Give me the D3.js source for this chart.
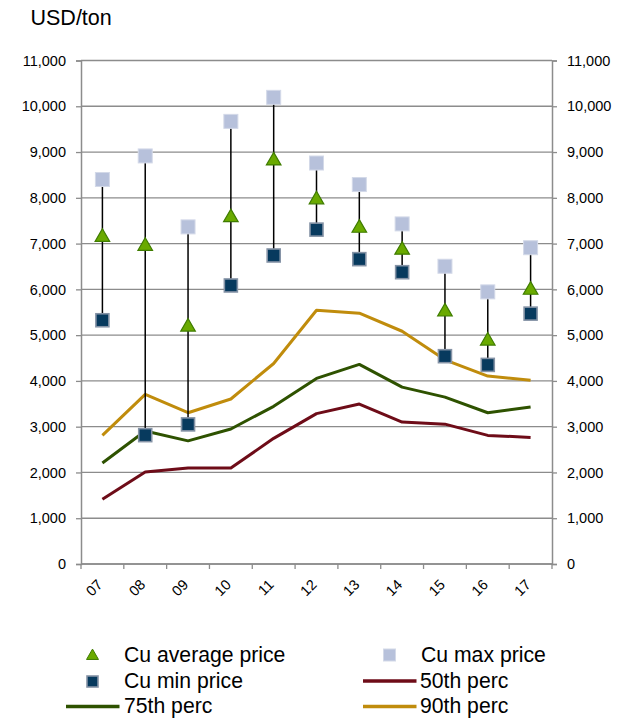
<!DOCTYPE html>
<html>
<head>
<meta charset="utf-8">
<script src="https://cdn.jsdelivr.net/npm/d3@7"></script>
<style>
  html, body { margin: 0; padding: 0; background: #ffffff; }
  svg { display: block; font-family: "Liberation Sans", Arial, sans-serif; }
</style>
</head>
<body>
<svg id="chart" width="618" height="720"></svg>
<script>
// ---- data ----
const years = ["07", "08", "09", "10", "11", "12", "13", "14", "15", "16", "17"];
const avgPrice = [7140, 6945, 5180, 7570, 8810, 7960, 7340, 6860, 5510, 4875, 5985];
const maxPrice = [8400, 8915, 7365, 9670, 10195, 8760, 8290, 7430, 6505, 5945, 6910];
const minPrice = [5325, 2815, 3050, 6085, 6740, 7305, 6660, 6375, 4540, 4350, 5470];
const p50 = [1415, 2010, 2095, 2095, 2745, 3285, 3495, 3100, 3055, 2810, 2765];
const p75 = [2205, 2905, 2690, 2950, 3445, 4055, 4360, 3865, 3645, 3305, 3430];
const p90 = [2810, 3705, 3305, 3605, 4380, 5545, 5480, 5085, 4460, 4105, 4015];
const currentPrice = 6195;
const currentFromYear = "16";
const yTicks = [0, 1000, 2000, 3000, 4000, 5000, 6000, 7000, 8000, 9000, 10000, 11000];
const yUnit = "USD/ton";
const seriesNames = ["Cu average price", "Cu max price", "Cu min price", "50th perc", "75th perc", "90th perc"];

// ---- styles ----
const C = {
  grid: "#8c8c8c",
  maxFill: "#b7c1db", maxStroke: "#d3d9e8",
  minFill: "#073a5e", minStroke: "#8593a6",
  triFill: "#6aaa00", triStroke: "#3f7c00",
  p50: "#6e0c18", p75: "#2e5200", p90: "#c08c0c",
  bar: "#6c0012"
};

const svg = d3.select("#chart");
const pL = 81, pR = 552, pT = 60.5, pB = 564;

const x = d3.scaleBand().domain(years).range([pL, pR]).padding(0);
const y = d3.scaleLinear().domain([0, 11000]).range([pB, pT]);
const cx = d => x(d) + x.bandwidth() / 2;
const fmt = d3.format(",");

const defs = svg.append("defs");
const f = defs.append("filter").attr("id", "shadow").attr("x", "-10%").attr("y", "-50%").attr("width", "120%").attr("height", "250%");
f.append("feDropShadow").attr("dx", 1).attr("dy", 2).attr("stdDeviation", 1.3).attr("flood-color", "#000").attr("flood-opacity", 0.35);

// title
svg.append("text").attr("x", 30.5).attr("y", 25).attr("font-size", 21.5).attr("fill", "#000").text(yUnit);

// gridlines
svg.append("g").selectAll("line").data(yTicks).join("line")
  .attr("x1", pL).attr("x2", pR)
  .attr("y1", d => y(d)).attr("y2", d => y(d))
  .attr("stroke", C.grid).attr("stroke-width", 1.3);

// left axis
const gl = svg.append("g").attr("transform", `translate(${pL},0)`)
  .call(d3.axisLeft(y).tickValues(yTicks).tickFormat(fmt).tickSize(5).tickPadding(10));
gl.select(".domain").attr("stroke", C.grid).attr("stroke-width", 1.5);
gl.selectAll(".tick line").attr("stroke", C.grid).attr("stroke-width", 1.3);
gl.selectAll(".tick text").attr("font-size", 14.5).attr("fill", "#000").attr("font-family", "Liberation Sans, Arial, sans-serif");

// right axis
const gr = svg.append("g").attr("transform", `translate(${pR},0)`)
  .call(d3.axisRight(y).tickValues(yTicks).tickFormat(fmt).tickSize(5).tickPadding(10));
gr.select(".domain").attr("stroke", C.grid).attr("stroke-width", 1.5);
gr.selectAll(".tick line").attr("stroke", C.grid).attr("stroke-width", 1.3);
gr.selectAll(".tick text").attr("font-size", 14.5).attr("fill", "#000").attr("font-family", "Liberation Sans, Arial, sans-serif");

// x axis line and ticks at band boundaries
svg.append("line").attr("x1", pL).attr("x2", pR).attr("y1", pB).attr("y2", pB)
  .attr("stroke", C.grid).attr("stroke-width", 1.5);
const bounds = years.map(d => x(d)).concat([pR]);
svg.append("g").selectAll("line").data(bounds).join("line")
  .attr("x1", d => d).attr("x2", d => d).attr("y1", pB).attr("y2", pB + 5)
  .attr("stroke", C.grid).attr("stroke-width", 1.3);
svg.append("g").selectAll("text").data(years).join("text")
  .attr("transform", d => `translate(${cx(d) - 2.5},${pB + 18}) rotate(-45)`)
  .attr("text-anchor", "end").attr("dy", "0.35em")
  .attr("font-size", 14.5).attr("fill", "#000").text(d => d);

// percentile lines
const line = d3.line().x((d, i) => cx(years[i])).y(d => y(d));
[[p50, C.p50], [p75, C.p75], [p90, C.p90]].forEach(([arr, col]) => {
  svg.append("path").datum(arr).attr("d", line).attr("fill", "none")
    .attr("stroke", col).attr("stroke-width", 3).attr("stroke-linejoin", "round");
});

// high-low lines
svg.append("g").selectAll("line").data(years).join("line")
  .attr("x1", d => cx(d)).attr("x2", d => cx(d))
  .attr("y1", (d, i) => y(minPrice[i])).attr("y2", (d, i) => y(maxPrice[i]))
  .attr("stroke", "#000").attr("stroke-width", 1.5);

// max squares
svg.append("g").selectAll("rect").data(years).join("rect")
  .attr("x", d => cx(d) - 7).attr("y", (d, i) => y(maxPrice[i]) - 7)
  .attr("width", 14).attr("height", 14)
  .attr("fill", C.maxFill).attr("stroke", C.maxStroke).attr("stroke-width", 1);

// min squares
svg.append("g").selectAll("rect").data(years).join("rect")
  .attr("x", d => cx(d) - 6.5).attr("y", (d, i) => y(minPrice[i]) - 6.5)
  .attr("width", 13).attr("height", 13)
  .attr("fill", C.minFill).attr("stroke", C.minStroke).attr("stroke-width", 1.6);

// average triangles
const tri = d3.symbol().type(d3.symbolTriangle).size(92);
svg.append("g").selectAll("path").data(years).join("path")
  .attr("d", tri)
  .attr("transform", (d, i) => `translate(${cx(d)},${y(avgPrice[i])})`)
  .attr("fill", C.triFill).attr("stroke", C.triStroke).attr("stroke-width", 1.2);

// current price bar
svg.append("line")
  .attr("x1", x(currentFromYear) + 6).attr("x2", pR + 5)
  .attr("y1", y(currentPrice)).attr("y2", y(currentPrice))
  .attr("stroke", C.bar).attr("stroke-width", 7.5).attr("filter", "url(#shadow)");

// legend
const lg = svg.append("g").attr("font-size", 21.2).attr("fill", "#000");
// col 1
lg.append("path").attr("d", d3.symbol().type(d3.symbolTriangle).size(62))
  .attr("transform", "translate(92.5,656)").attr("fill", C.triFill).attr("stroke", C.triStroke).attr("stroke-width", 1);
lg.append("text").attr("x", 124).attr("y", 661.5).text(seriesNames[0]);
lg.append("rect").attr("x", 87).attr("y", 676).attr("width", 11).attr("height", 11)
  .attr("fill", C.minFill).attr("stroke", C.minStroke).attr("stroke-width", 1.6);
lg.append("text").attr("x", 124).attr("y", 687.5).text(seriesNames[2]);
lg.append("line").attr("x1", 66).attr("x2", 119.5).attr("y1", 706.5).attr("y2", 706.5)
  .attr("stroke", C.p75).attr("stroke-width", 3.5);
lg.append("text").attr("x", 124).attr("y", 713).text(seriesNames[4]);
// col 2
lg.append("rect").attr("x", 383.5).attr("y", 649).attr("width", 12).attr("height", 12)
  .attr("fill", C.maxFill).attr("stroke", C.maxStroke).attr("stroke-width", 1);
lg.append("text").attr("x", 421).attr("y", 661.5).text(seriesNames[1]);
lg.append("line").attr("x1", 363).attr("x2", 416.5).attr("y1", 681).attr("y2", 681)
  .attr("stroke", C.p50).attr("stroke-width", 3.5);
lg.append("text").attr("x", 420).attr("y", 687.5).text(seriesNames[3]);
lg.append("line").attr("x1", 363).attr("x2", 416.5).attr("y1", 706.5).attr("y2", 706.5)
  .attr("stroke", C.p90).attr("stroke-width", 3.5);
lg.append("text").attr("x", 420).attr("y", 713).text(seriesNames[5]);
</script>
</body>
</html>
